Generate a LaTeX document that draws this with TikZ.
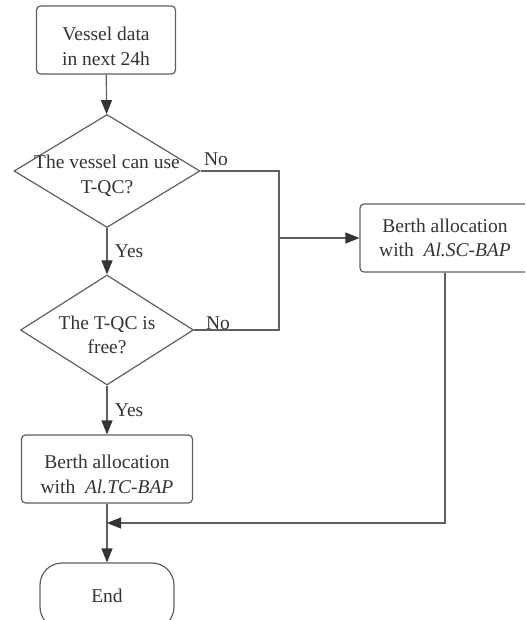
\documentclass[tikz,border=0pt]{standalone}
\usepackage{fontspec}
\setmainfont{Liberation Serif}
\usetikzlibrary{arrows.meta,positioning,shapes.geometric}
\definecolor{FlowLine}{HTML}{5F5F5F}
\definecolor{FlowTip}{HTML}{333333}
\definecolor{FlowText}{HTML}{333333}
\newcommand{\flowfont}{\fontsize{19.5}{24.5}\selectfont}

\begin{document}
\begin{tikzpicture}[
        x=1pt,y=-1pt,
        process/.style={draw=FlowLine,line width=1.2pt,rounded corners=4pt,minimum width=#1,minimum height=68pt,align=center,font=\flowfont,text=FlowText},
        process/.default=139pt,
        decision/.style={draw=FlowLine,line width=1.2pt,diamond,inner sep=0pt},
        terminal/.style={draw=FlowLine,line width=1.2pt,rounded corners=22pt,minimum width=134pt,minimum height=66pt,font=\flowfont,text=FlowText},
        txt/.style={align=center,font=\flowfont,text=FlowText,yshift=-5pt},
        flow/.style={-{Triangle[length=14pt,width=11pt,color=FlowTip]},line width=1.2pt,draw=FlowLine},
        branch/.style={font=\flowfont,text=FlowText}
      ]
        \clip (0,0) rectangle (525,620);
        \node[process] (vessel) at (106,40) {\rule{0pt}{26pt}Vessel data\\in next 24h};
        \node[decision,minimum width=186pt,minimum height=113pt,
              label={[txt]center:The vessel can use\\T-QC?}] (canuse) at (107,171) {};
        \node[decision,minimum width=173pt,minimum height=110pt,
              label={[txt]center:The T-QC is\\free?}] (free) at (107,330) {};
        \node[process=171pt] (tcbap) at (107,469) {\rule{0pt}{24pt}Berth allocation\\with~ \textit{Al.TC-BAP}};
        \node[process=170pt] (scbap) at (445,238) {Berth allocation\\with~ \textit{Al.SC-BAP}};
        \node[terminal] (finish) at (107,596) {End};
        \coordinate (join) at (279,238);
        \coordinate (merge) at (107,523);
        % main line
        \draw[flow] (vessel) -- (canuse);
        \draw[flow] (canuse) -- node[branch,right=4pt] {Yes} (free);
        \draw[flow] (free) -- node[branch,right=4pt] {Yes} (tcbap);
        \draw[flow] (tcbap) -- (finish);
        % branches
        \draw[draw=FlowLine,line width=1.2pt] (canuse.east) -- (join |- canuse.east) -- (join);
        \draw[draw=FlowLine,line width=1.2pt] (free.east) -- (join |- free.east) -- (join);
        \draw[flow] (join) -- (scbap);
        \draw[flow] (scbap) -- (scbap.south |- merge) -- (merge);
        \node[branch] (no1) at (216,159) {No};
        \node[branch] (no2) at (218,323) {No};
      \end{tikzpicture}
\end{document}
